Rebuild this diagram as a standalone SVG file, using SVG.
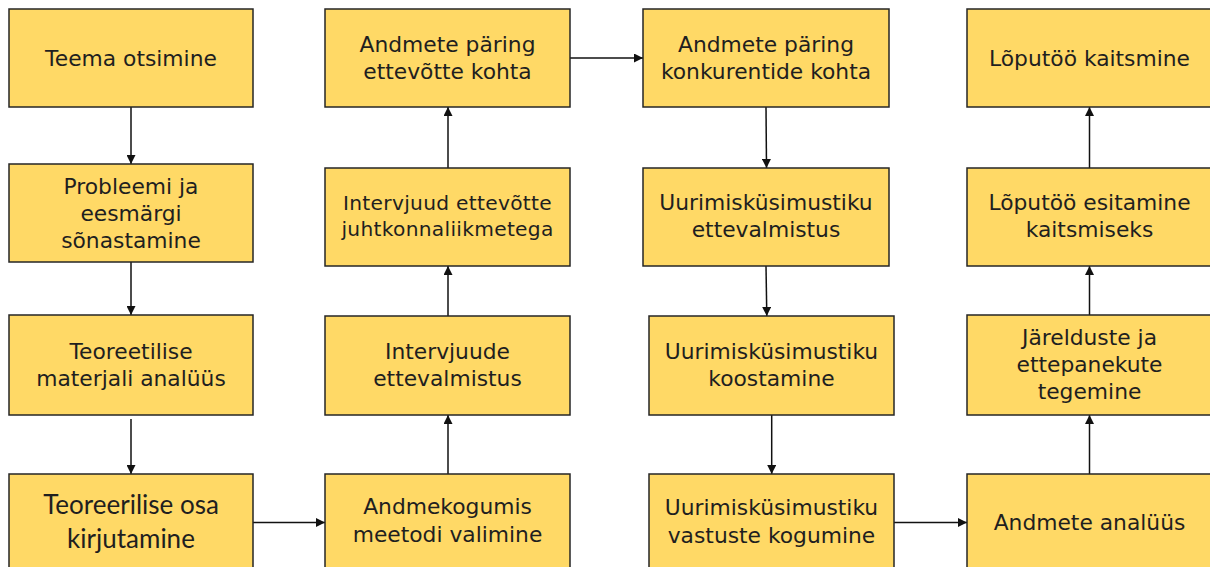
<svg xmlns="http://www.w3.org/2000/svg" width="1210" height="567" viewBox="0 0 1210 567">
<defs>
<style>
.box{fill:#FFD966;stroke:#262626;stroke-width:1.5}
.t{font-family:"DejaVu Sans",Verdana,sans-serif;font-size:21.8px;fill:#1f1f1f;text-anchor:middle}
.s{font-size:20.2px;letter-spacing:0.3px}
.c{font-family:Lato,"Liberation Sans",sans-serif;font-size:26px;fill:#1f1f1f;text-anchor:middle}
.ln{stroke:#111;stroke-width:1.5;fill:none;marker-end:url(#ah)}
</style>
<marker id="ah" viewBox="0 0 10 10" refX="10" refY="5" markerWidth="6" markerHeight="6" orient="auto" markerUnits="strokeWidth">
<path d="M0,0 L10,5 L0,10 z" fill="#111"/>
</marker>
</defs>
<rect width="1210" height="567" fill="#fff"/>
<g id="connectors">
<line class="ln" x1="131" y1="107" x2="131" y2="164"/>
<line class="ln" x1="131" y1="262" x2="131" y2="315"/>
<line class="ln" x1="131" y1="419" x2="131" y2="474"/>
<line class="ln" x1="253" y1="522.5" x2="325" y2="522.5"/>
<line class="ln" x1="448" y1="474" x2="448" y2="415"/>
<line class="ln" x1="448" y1="316" x2="448" y2="266"/>
<line class="ln" x1="448" y1="168" x2="448" y2="107"/>
<line class="ln" x1="570" y1="58" x2="643" y2="58"/>
<line class="ln" x1="766" y1="107" x2="766.5" y2="168"/>
<line class="ln" x1="766" y1="266" x2="766.8" y2="316"/>
<line class="ln" x1="771.7" y1="415" x2="771.7" y2="474"/>
<line class="ln" x1="894" y1="522.5" x2="967" y2="522.5"/>
<line class="ln" x1="1089.5" y1="474" x2="1089.5" y2="415"/>
<line class="ln" x1="1089.5" y1="315" x2="1089.5" y2="266"/>
<line class="ln" x1="1089.5" y1="168" x2="1089.5" y2="107"/>
</g>
<g id="n1"><rect class="box" x="9" y="9" width="244" height="98"/><text class="t" x="131" y="65.5">Teema otsimine</text></g>
<g id="n2"><rect class="box" x="9" y="164" width="244" height="98"/><text class="t" x="131" y="193.5">Probleemi ja</text><text class="t" x="131" y="220.5">eesmärgi</text><text class="t" x="131" y="247.5">sõnastamine</text></g>
<g id="n3"><rect class="box" x="9" y="315" width="244" height="100"/><text class="t" x="131" y="358.5">Teoreetilise</text><text class="t" x="131" y="385.5">materjali analüüs</text></g>
<g id="n4"><rect class="box" x="9" y="474" width="244" height="96"/><text class="c" x="131" y="513.5">Teoreerilise osa</text><text class="c" x="131" y="547.5">kirjutamine</text></g>
<g id="n5"><rect class="box" x="325" y="474" width="245" height="96"/><text class="t" x="447.5" y="514">Andmekogumis</text><text class="t" x="447.5" y="542">meetodi valimine</text></g>
<g id="n6"><rect class="box" x="325" y="316" width="245" height="99"/><text class="t" x="447.5" y="359">Intervjuude</text><text class="t" x="447.5" y="386">ettevalmistus</text></g>
<g id="n7"><rect class="box" x="325" y="168" width="245" height="98"/><text class="t s" x="447.5" y="210">Intervjuud ettevõtte</text><text class="t s" x="447.5" y="236">juhtkonnaliikmetega</text></g>
<g id="n8"><rect class="box" x="325" y="9" width="245" height="98"/><text class="t" x="447.5" y="52">Andmete päring</text><text class="t" x="447.5" y="79">ettevõtte kohta</text></g>
<g id="n9"><rect class="box" x="643" y="9" width="246" height="98"/><text class="t" x="766" y="52">Andmete päring</text><text class="t" x="766" y="79">konkurentide kohta</text></g>
<g id="n10"><rect class="box" x="643" y="168" width="246" height="98"/><text class="t" x="766" y="210">Uurimisküsimustiku</text><text class="t" x="766" y="237">ettevalmistus</text></g>
<g id="n11"><rect class="box" x="649" y="316" width="245" height="99"/><text class="t" x="771.5" y="359">Uurimisküsimustiku</text><text class="t" x="771.5" y="386">koostamine</text></g>
<g id="n12"><rect class="box" x="649" y="474" width="245" height="96"/><text class="t" x="771.5" y="515">Uurimisküsimustiku</text><text class="t" x="771.5" y="542.5">vastuste kogumine</text></g>
<g id="n13"><rect class="box" x="967" y="474" width="245" height="96"/><text class="t" x="1089.5" y="529.5">Andmete analüüs</text></g>
<g id="n14"><rect class="box" x="967" y="315" width="245" height="100"/><text class="t" x="1089.5" y="345">Järelduste ja</text><text class="t" x="1089.5" y="372">ettepanekute</text><text class="t" x="1089.5" y="399">tegemine</text></g>
<g id="n15"><rect class="box" x="967" y="168" width="245" height="98"/><text class="t" x="1089.5" y="210">Lõputöö esitamine</text><text class="t" x="1089.5" y="237">kaitsmiseks</text></g>
<g id="n16"><rect class="box" x="967" y="9" width="245" height="98"/><text class="t" x="1089.5" y="65.5">Lõputöö kaitsmine</text></g>
</svg>
